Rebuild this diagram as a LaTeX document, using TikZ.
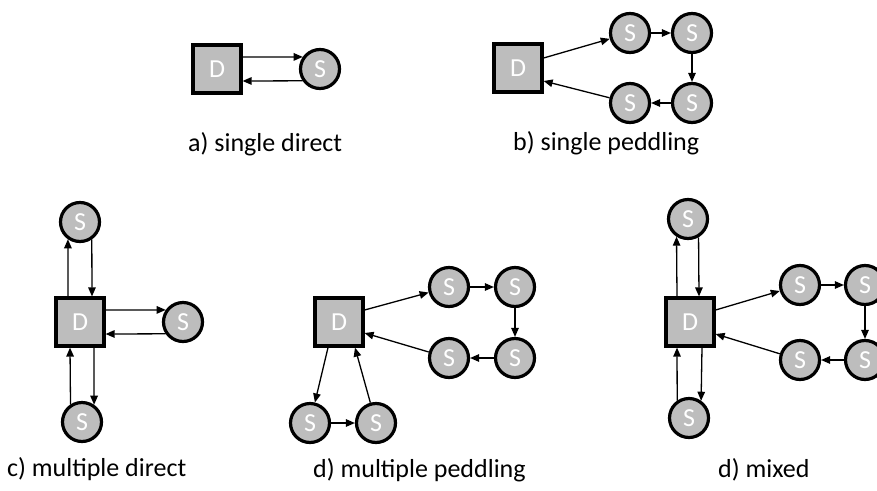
\documentclass[tikz,border=0pt]{standalone}
\usepackage{fontspec}
\setmainfont{Carlito}
\usetikzlibrary{arrows.meta}
\definecolor{nodegray}{HTML}{BDBDBD}
\begin{document}
\begin{tikzpicture}[x=1pt,y=-1pt,
  depot/.style={draw=black, line width=3.2pt, fill=nodegray, minimum size=48pt, inner sep=0pt, text=white, font=\fontsize{26}{26}\selectfont},
  site/.style={circle, draw=black, line width=3.2pt, fill=nodegray, minimum size=39pt, inner sep=0pt, text=white, font=\fontsize{26}{26}\selectfont},
  arr/.style={-{Triangle[length=9pt,width=7.5pt]}, line width=1.3pt},
  lbl/.style={font=\fontsize{26}{26}\selectfont, inner sep=0pt, anchor=west}]
\useasboundingbox (0,0) rectangle (877,490);
\clip (0,0) rectangle (877,490);

% a) single direct
\node[depot] (Da) at (217,69) {D};
\node[site] (Sa) at (320,69) {S};
\draw[arr] ([yshift=12pt]Da.east) -- (Sa.145.2);
\draw[arr] (Sa.214.8) -- ([yshift=-12pt]Da.east);
\node[lbl] (La) at (188,144) {a) single direct};

% b) single peddling
\node[depot] (Db) at (518,68) {D};
\node[site] (Sb1) at (630,33) {S};
\node[site] (Sb2) at (692,33) {S};
\node[site] (Sb3) at (692,103) {S};
\node[site] (Sb4) at (630,103) {S};
\draw[arr] ([yshift=10pt]Db.east) -- (Sb1);
\draw[arr] (Sb1) -- (Sb2);
\draw[arr] (Sb2) -- (Sb3);
\draw[arr] (Sb3) -- (Sb4);
\draw[arr] (Sb4) -- ([yshift=-13pt]Db.east);
\node[lbl] (Lb) at (513,143) {b) single peddling};

% c) multiple direct
\node[depot] (Dc) at (80,322) {D};
\node[site] (Sc1) at (80,222) {S};
\node[site] (Sc2) at (183,322) {S};
\node[site] (Sc3) at (82,422) {S};
\draw[arr] ([xshift=-12pt]Dc.north) -- (Sc1.235.2);
\draw[arr] (Sc1.304.8) -- ([xshift=12pt]Dc.north);
\draw[arr] ([yshift=12pt]Dc.east) -- (Sc2.145.2);
\draw[arr] (Sc2.214.8) -- ([yshift=-12pt]Dc.east);
\draw[arr] (Sc3.123.7) -- ([xshift=-10pt]Dc.south);
\draw[arr] ([xshift=14pt]Dc.south) -- (Sc3.55.2);
\node[lbl] (Lc) at (7,469) {c) multiple direct};

% d) multiple peddling
\node[depot] (Dd) at (339,322) {D};
\node[site] (Sd1) at (449,287) {S};
\node[site] (Sd2) at (515,287) {S};
\node[site] (Sd3) at (515,358) {S};
\node[site] (Sd4) at (449,358) {S};
\node[site] (Sd5) at (310,423) {S};
\node[site] (Sd6) at (376,423) {S};
\draw[arr] ([yshift=12pt]Dd.east) -- (Sd1);
\draw[arr] (Sd1) -- (Sd2);
\draw[arr] (Sd2) -- (Sd3);
\draw[arr] (Sd3) -- (Sd4);
\draw[arr] (Sd4) -- ([yshift=-11pt]Dd.east);
\draw[arr] ([xshift=-11pt]Dd.south) -- (Sd5);
\draw[arr] (Sd5) -- (Sd6);
\draw[arr] (Sd6) -- ([xshift=16pt]Dd.south);
\node[lbl] (Ld) at (313,470) {d) multiple peddling};

% e) mixed
\node[depot] (De) at (690,322) {D};
\node[site] (Se1) at (688,219) {S};
\node[site] (Se2) at (689,418) {S};
\node[site] (Se3) at (800,285) {S};
\node[site] (Se4) at (865,285) {S};
\node[site] (Se5) at (865,360) {S};
\node[site] (Se6) at (800,360) {S};
\draw[arr] ([xshift=-13pt]De.north) -- (Se1.237);
\draw[arr] (Se1.300) -- ([xshift=9pt]De.north);
\draw[arr] (Se2.124.9) -- ([xshift=-13pt]De.south);
\draw[arr] ([xshift=12pt]De.south) -- (Se2.55.2);
\draw[arr] ([yshift=12pt]De.east) -- (Se3);
\draw[arr] (Se3) -- (Se4);
\draw[arr] (Se4) -- (Se5);
\draw[arr] (Se5) -- (Se6);
\draw[arr] (Se6) -- ([yshift=-12pt]De.east);
\node[lbl] (Le) at (718,470) {d) mixed};
\end{tikzpicture}
\end{document}
